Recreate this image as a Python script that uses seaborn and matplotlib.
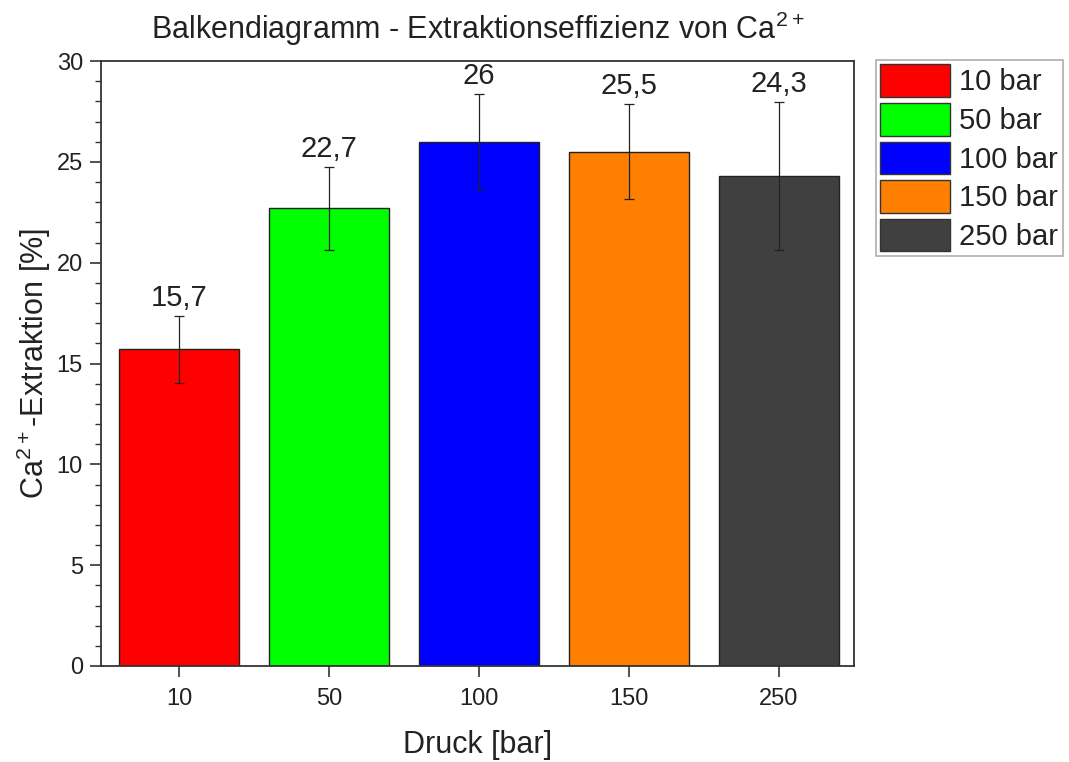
import matplotlib
matplotlib.use("Agg")
import matplotlib.pyplot as plt
import seaborn as sns
import pandas as pd
from matplotlib.ticker import MultipleLocator
from matplotlib.patches import Patch

pressures = ["10", "50", "100", "150", "250"]
legend_labels = ["10 bar", "50 bar", "100 bar", "150 bar", "250 bar"]
values = [15.7, 22.7, 26.0, 25.5, 24.3]
errors = [1.65, 2.05, 2.35, 2.35, 3.65]
value_labels = ["15,7", "22,7", "26", "25,5", "24,3"]
colors = ["#ff0000", "#00ff00", "#0000ff", "#ff8000", "#404040"]

sns.set_theme(style="white")
plt.rcParams["font.family"] = ["Liberation Sans", "DejaVu Sans"]
plt.rcParams["mathtext.default"] = "regular"

df = pd.DataFrame({"Druck": pressures, "Wert": values, "Gruppe": legend_labels})

fig = plt.figure(figsize=(10.69, 7.62), dpi=100)
ax = fig.add_axes([101/1069, 1-666/762, (854-101)/1069, (666-61)/762])

sns.barplot(data=df, x="Druck", y="Wert", hue="Gruppe", palette=colors,
            dodge=False, width=0.8, errorbar=None, ax=ax,
            edgecolor="#222222", linewidth=1.0, legend=False, saturation=1)

centers = [p.get_x() + p.get_width()/2 for p in ax.patches[:len(values)]]
ax.errorbar(centers, values, yerr=errors, fmt="none", ecolor="#222222",
            elinewidth=0.9, capsize=3.6, capthick=0.9, zorder=5)

for c, v, e, lab in zip(centers, values, errors, value_labels):
    ax.annotate(lab, (c, v + e), xytext=(0, 3), textcoords="offset points",
                ha="center", va="bottom", fontsize=21, color="#222222")

ax.set_xlim(-0.52, 4.50)
ax.set_ylim(0, 30)
ax.yaxis.set_major_locator(MultipleLocator(5))
ax.yaxis.set_minor_locator(MultipleLocator(1))
ax.tick_params(axis="y", which="major", direction="out", length=8, width=1.2,
               left=True, labelsize=17, color="#333333", labelcolor="#222222", pad=5)
ax.tick_params(axis="y", which="minor", direction="out", length=4, width=1.0,
               left=True, color="#333333")
ax.tick_params(axis="x", which="major", direction="out", length=8, width=1.2,
               bottom=True, labelsize=17, color="#333333", labelcolor="#222222", pad=8)
for s in ax.spines.values():
    s.set_color("#333333")
    s.set_linewidth(1.3)

ax.set_xlabel("Druck [bar]", fontsize=22, color="#222222", labelpad=14)
ax.set_ylabel("Ca$^{2+}$-Extraktion [%]", fontsize=22, color="#222222", labelpad=3)
ax.set_title("Balkendiagramm - Extraktionseffizienz von Ca$^{2+}$", fontsize=22,
             color="#222222", pad=16)

handles = [Patch(facecolor=c, edgecolor="#333333", linewidth=1.0) for c in colors]
leg = fig.legend(handles, legend_labels, loc="upper left",
                 bbox_to_anchor=(876/1069, 1-60/762), fontsize=21,
                 frameon=True, fancybox=False, edgecolor="#999999",
                 handlelength=2.4, handleheight=1.35, labelspacing=0.2,
                 borderpad=0.15, handletextpad=0.3, borderaxespad=0)
leg.get_frame().set_linewidth(1.2)
for t in leg.get_texts():
    t.set_color("#222222")

fig.savefig("out.png", dpi=100)
